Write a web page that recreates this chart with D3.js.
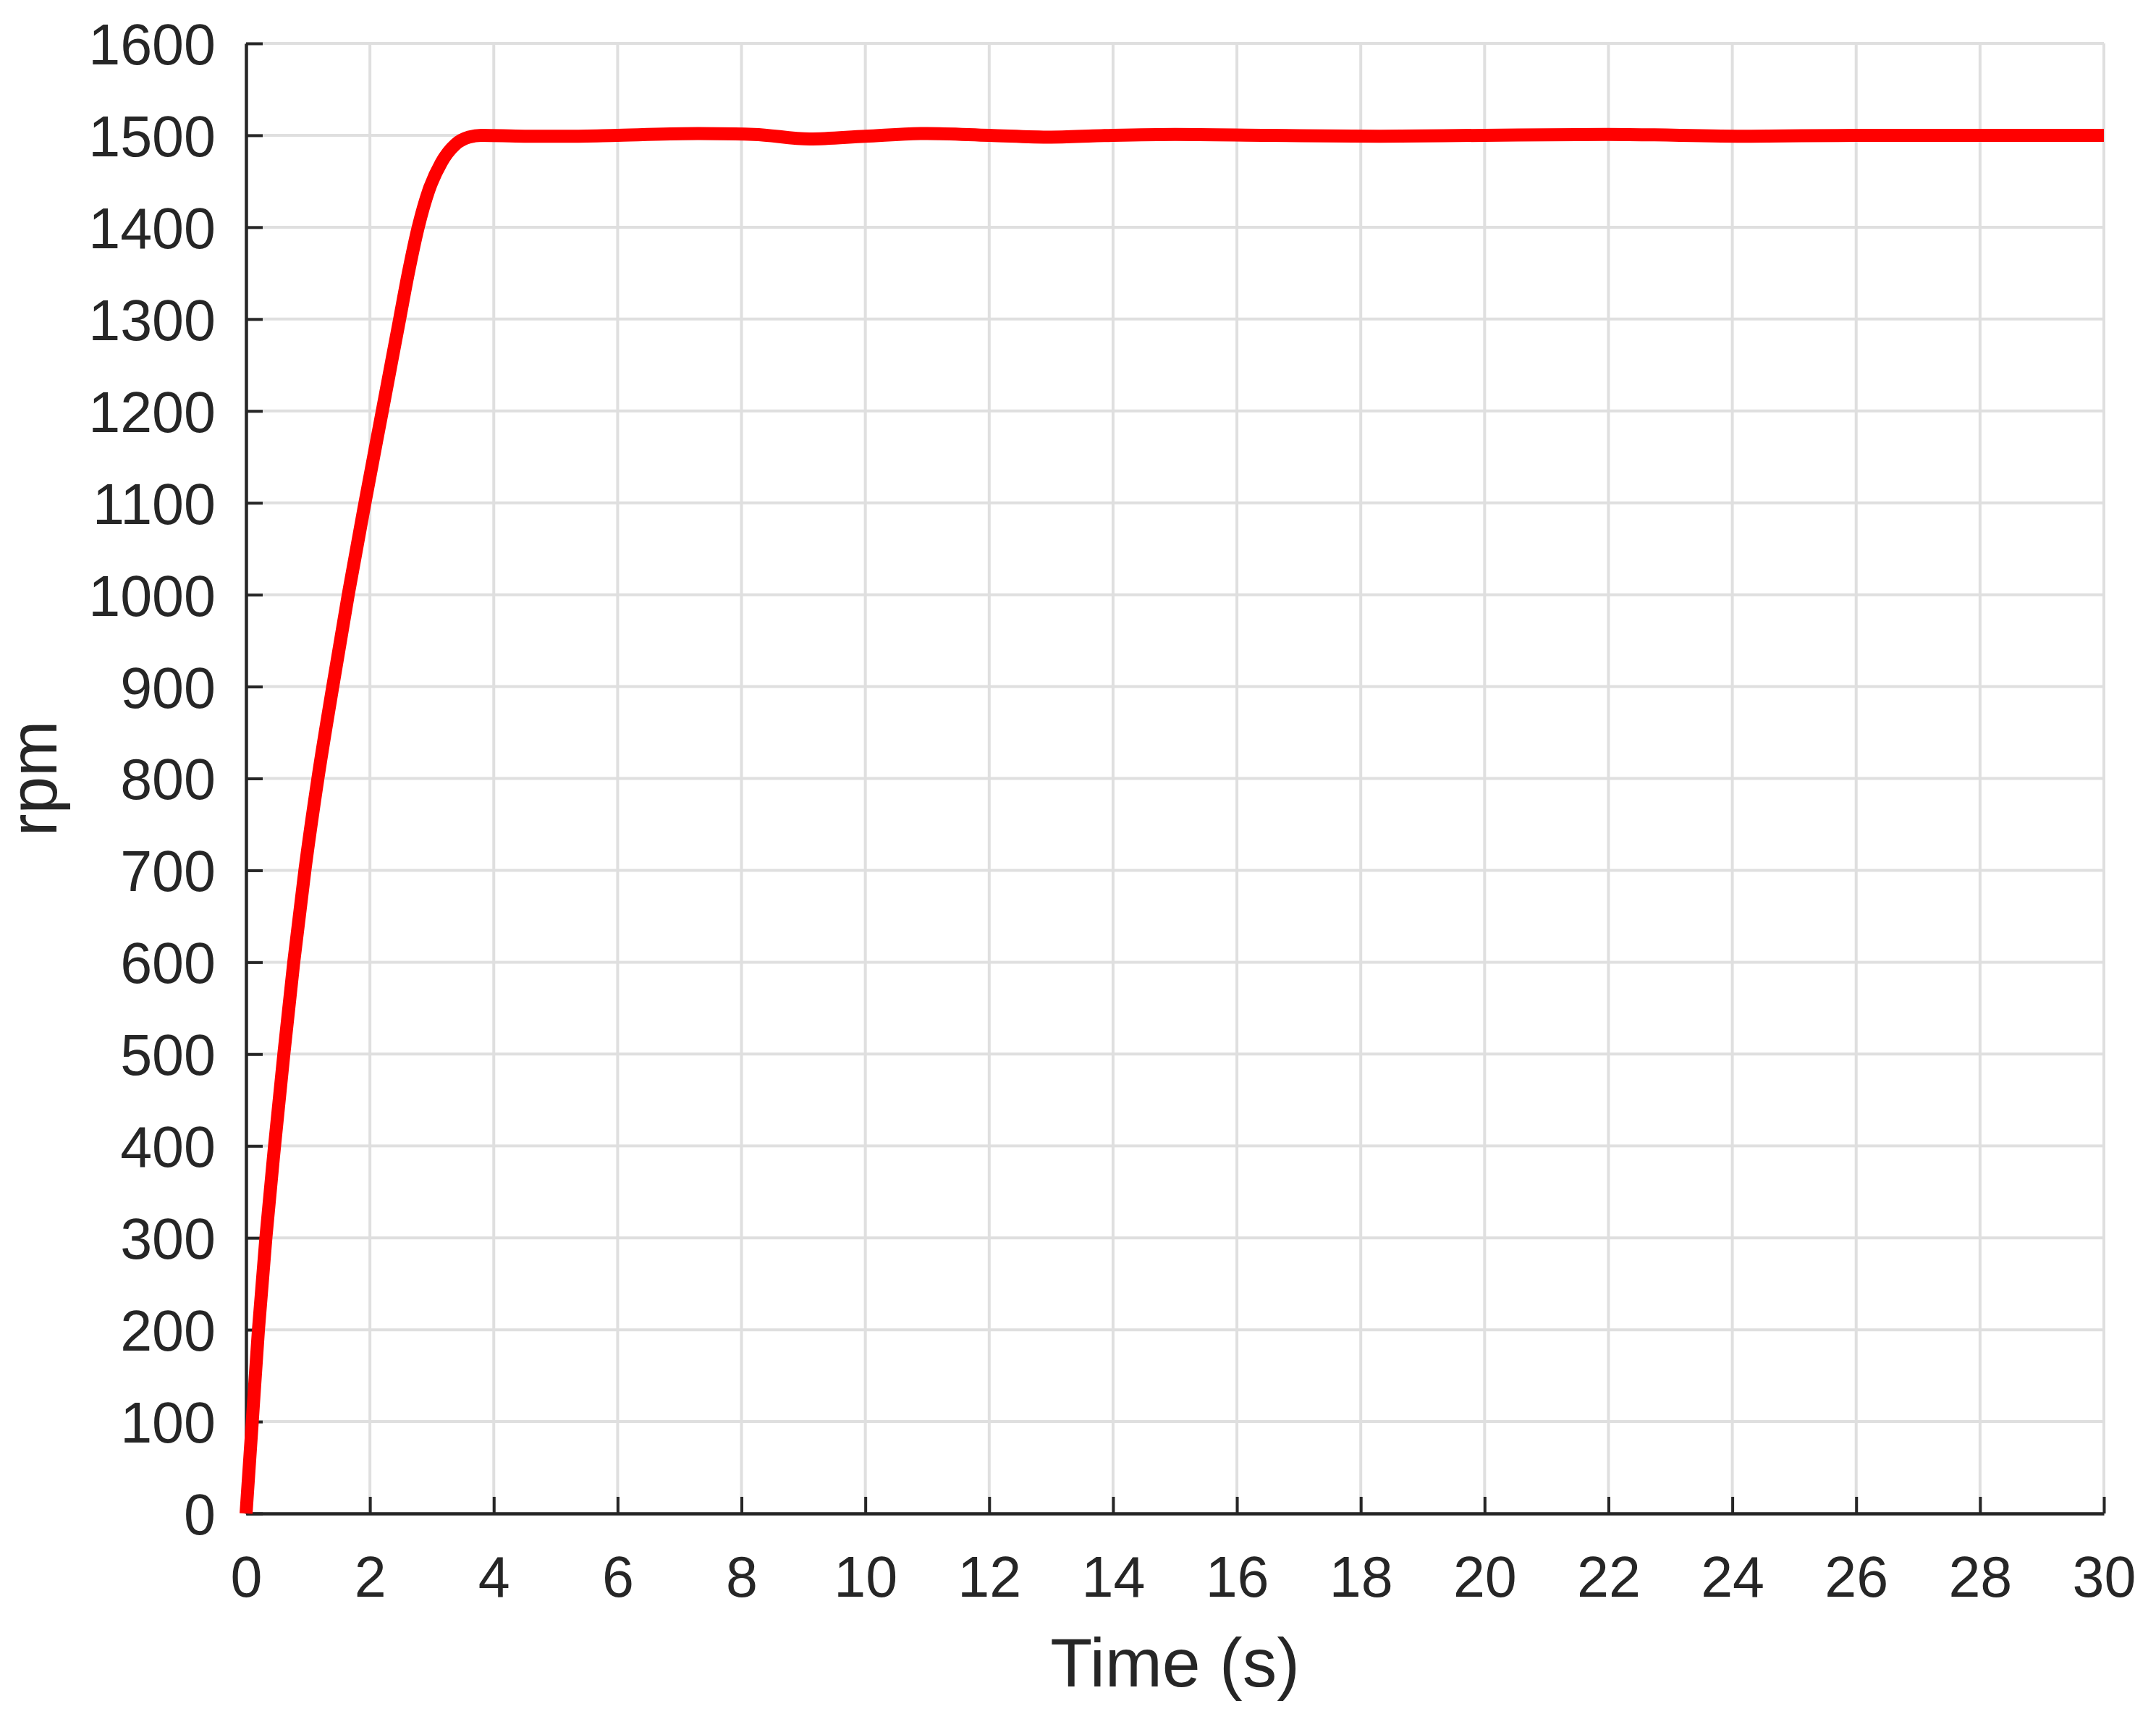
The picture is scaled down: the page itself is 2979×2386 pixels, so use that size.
<!DOCTYPE html>
<html lang="en">

<head>
    <meta charset="UTF-8">
    <title>rpm vs time</title>
    <script src="https://cdn.jsdelivr.net/npm/d3@7/dist/d3.min.js"></script>
    <style>
        body { margin: 0; background: #fff; }
        text { font-family: "Liberation Sans", Arial, sans-serif; fill: #262626; }
    </style>
</head>

<body>
</body>

</html>
<script>
    // data
    var time = [0, 0.1, 0.2, 0.32, 0.46, 0.61, 0.77, 0.95, 1.16, 1.4, 1.65, 1.92, 2.2, 2.48, 2.62, 2.78, 2.95, 3.15, 3.38, 3.6, 3.8,
        4.5, 5.2, 6, 7.3, 8.2, 9.1, 10, 11, 12, 13, 14, 15, 16.5, 18.3, 20, 22, 24.3, 26, 28, 30];
    var rpm = [0, 100, 200, 300, 400, 500, 600, 700, 800, 900, 1000, 1100, 1200, 1300, 1350, 1400, 1440, 1470, 1490, 1498, 1500,
        1499, 1499, 1500, 1502, 1501, 1496, 1499, 1502, 1500, 1498, 1500, 1501, 1500, 1499, 1500, 1501, 1499, 1500, 1500, 1500];
    var xTicks = d3.range(0, 31, 2);
    var yTicks = d3.range(0, 1601, 100);

    var width = 2979;
    var height = 2386;
    // plot box (window.top is reserved, so own names)
    var pLeft = 340, pRight = 2907, pTop = 60, pBottom = 2091;

    var svg = d3.select("body")
        .append("svg")
        .attr("width", width)
        .attr("height", height);

    var x = d3.scaleLinear().domain([0, 30]).range([pLeft, pRight]);
    var y = d3.scaleLinear().domain([0, 1600]).range([pBottom, pTop]);

    // grid
    svg.append("g").selectAll("line")
        .data(xTicks)
        .enter()
        .append("line")
        .attr("x1", function (d) { return x(d); })
        .attr("x2", function (d) { return x(d); })
        .attr("y1", pTop)
        .attr("y2", pBottom)
        .attr("stroke", "#dfdfdf")
        .attr("stroke-width", 4);
    svg.append("g").selectAll("line")
        .data(yTicks)
        .enter()
        .append("line")
        .attr("x1", pLeft)
        .attr("x2", pRight)
        .attr("y1", function (d) { return y(d); })
        .attr("y2", function (d) { return y(d); })
        .attr("stroke", "#dfdfdf")
        .attr("stroke-width", 4);

    // axes, ticks pointing inward
    var xAxis = d3.axisBottom(x)
        .tickValues(xTicks)
        .tickFormat(d3.format("d"))
        .tickSizeInner(-23)
        .tickSizeOuter(0)
        .tickPadding(59);
    var yAxis = d3.axisLeft(y)
        .tickValues(yTicks)
        .tickFormat(d3.format("d"))
        .tickSizeInner(-23)
        .tickSizeOuter(0)
        .tickPadding(42);

    var gx = svg.append("g")
        .attr("transform", "translate(0," + pBottom + ")")
        .call(xAxis);
    var gy = svg.append("g")
        .attr("transform", "translate(" + pLeft + ",0)")
        .call(yAxis);

    [gx, gy].forEach(function (g) {
        g.select(".domain").attr("stroke", "#262626").attr("stroke-width", 4.5);
        g.selectAll(".tick line").attr("stroke", "#262626").attr("stroke-width", 4);
        g.selectAll(".tick text")
            .attr("fill", "#262626")
            .style("font-family", "'Liberation Sans', Arial, sans-serif")
            .style("font-size", "79px");
    });
    gx.selectAll(".tick text").attr("dy", "0.71em");
    gy.selectAll(".tick text").attr("dy", "0.36em");

    // curve
    var line = d3.line()
        .x(function (d) { return x(d[0]); })
        .y(function (d) { return y(d[1]); })
        .curve(d3.curveMonotoneX);

    svg.append("path")
        .datum(d3.zip(time, rpm))
        .attr("d", line)
        .attr("fill", "none")
        .attr("stroke", "#ff0000")
        .attr("stroke-width", 18)
        .attr("stroke-linejoin", "round");

    // axis titles
    svg.append("text")
        .attr("x", (pLeft + pRight) / 2)
        .attr("y", 2330)
        .attr("text-anchor", "middle")
        .style("font-size", "95px")
        .text("Time (s)");

    svg.append("text")
        .attr("transform", "translate(78," + (pTop + pBottom) / 2 + ") rotate(-90)")
        .attr("text-anchor", "middle")
        .style("font-size", "93px")
        .text("rpm");
</script>
